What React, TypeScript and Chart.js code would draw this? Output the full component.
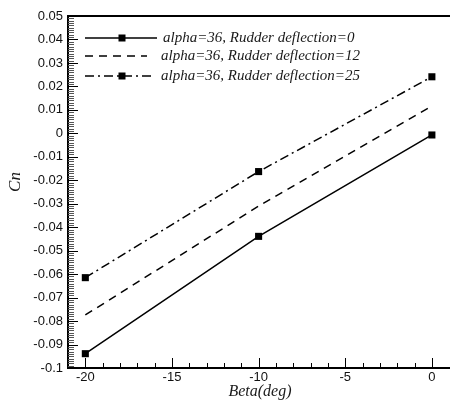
import { useEffect, useRef } from "react";
import { Chart, registerables } from "chart.js";

Chart.register(...registerables);

// Yawing-moment coefficient vs. sideslip angle at alpha = 36
const beta = [-20, -10, 0];
const cnRudder0 = [-0.0939, -0.0439, -0.0007];
const cnRudder12 = [-0.0774, -0.031, 0.0116];
const cnRudder25 = [-0.0615, -0.0163, 0.0241];

const seriesLabels = [
  "alpha=36, Rudder deflection=0",
  "alpha=36, Rudder deflection=12",
  "alpha=36, Rudder deflection=25",
];

const xTicks = [-20, -15, -10, -5, 0];
const yTicks = [-0.1, -0.09, -0.08, -0.07, -0.06, -0.05, -0.04, -0.03, -0.02, -0.01, 0, 0.01, 0.02, 0.03, 0.04, 0.05];
const yTickLabels = ["-0.1", "-0.09", "-0.08", "-0.07", "-0.06", "-0.05", "-0.04", "-0.03", "-0.02", "-0.01", "0", "0.01", "0.02", "0.03", "0.04", "0.05"];

const xTitle = "Beta(deg)";
const yTitle = "Cn";

const INK = "#000";
const SERIF_ITALIC = "italic 15px 'Liberation Serif', 'Times New Roman', serif";

const dashedPattern = [8, 6];
const dashDotPattern = [9, 4, 2, 4];

// Frame, inward tick marks, legend and axis titles
const decorPlugin = {
  id: "decor",
  afterDraw(chart: any) {
    const ctx = chart.ctx as CanvasRenderingContext2D;
    const { left, top, right, bottom } = chart.chartArea;
    const xs = chart.scales.x;
    const ys = chart.scales.y;
    ctx.save();

    // frame (top, left, bottom)
    ctx.strokeStyle = INK;
    ctx.lineWidth = 2;
    ctx.setLineDash([]);
    ctx.beginPath();
    ctx.moveTo(right + 2, top);
    ctx.lineTo(left, top);
    ctx.lineTo(left, bottom);
    ctx.lineTo(right + 2, bottom);
    ctx.stroke();

    // x ticks: major every 5, minor every 1
    ctx.lineWidth = 1;
    for (let v = -21; v <= 0; v += 1) {
      const px = Math.round(xs.getPixelForValue(v)) + 0.5;
      const major = v % 5 === 0;
      ctx.beginPath();
      ctx.moveTo(px, bottom);
      ctx.lineTo(px, bottom - (major ? 10 : 5));
      ctx.stroke();
    }

    // y ticks: major every 0.01, minor every 0.001
    for (let i = -100; i <= 50; i++) {
      const v = i / 1000;
      const py = Math.round(ys.getPixelForValue(v)) + 0.5;
      const major = i % 10 === 0;
      ctx.strokeStyle = major ? INK : "#555";
      ctx.beginPath();
      ctx.moveTo(left, py);
      ctx.lineTo(left + (major ? 10 : 6), py);
      ctx.stroke();
    }

    // legend
    const rows = [
      { y: 38, x0: 85, x1: 157, dash: [] as number[], marker: true, tx: 163 },
      { y: 56, x0: 85, x1: 147, dash: dashedPattern, marker: false, tx: 161 },
      { y: 76, x0: 85, x1: 153, dash: dashDotPattern, marker: true, tx: 161 },
    ];
    rows.forEach((r, i) => {
      ctx.strokeStyle = INK;
      ctx.lineWidth = 1.5;
      ctx.setLineDash(r.dash);
      ctx.beginPath();
      ctx.moveTo(r.x0, r.y);
      ctx.lineTo(r.x1, r.y);
      ctx.stroke();
      ctx.setLineDash([]);
      if (r.marker) {
        ctx.fillStyle = INK;
        ctx.fillRect(122 - 3.5, r.y - 3.5, 7, 7);
      }
      ctx.fillStyle = "#1a1a1a";
      ctx.font = SERIF_ITALIC;
      ctx.textAlign = "left";
      ctx.textBaseline = "middle";
      ctx.fillText(seriesLabels[i], r.tx, r.y);
    });

    // axis titles
    ctx.fillStyle = "#1a1a1a";
    ctx.font = "italic 16px 'Liberation Serif', 'Times New Roman', serif";
    ctx.textAlign = "center";
    ctx.textBaseline = "middle";
    ctx.fillText(xTitle, 260, 392);

    ctx.save();
    ctx.translate(16, 182);
    ctx.rotate(-Math.PI / 2);
    ctx.font = "italic 17px 'Liberation Serif', 'Times New Roman', serif";
    ctx.fillText(yTitle, 0, 0);
    ctx.restore();

    ctx.restore();
  },
};

export default function App() {
  const canvasRef = useRef<HTMLCanvasElement | null>(null);

  useEffect(() => {
    const canvas = canvasRef.current;
    if (!canvas) return;

    const toPoints = (ys: number[]) => beta.map((b, i) => ({ x: b, y: ys[i] }));

    const chart = new Chart(canvas, {
      type: "line",
      data: {
        datasets: [
          {
            label: seriesLabels[0],
            data: toPoints(cnRudder0),
            borderColor: INK,
            backgroundColor: INK,
            borderWidth: 1.5,
            pointStyle: "rect",
            pointRadius: 5,
            pointBorderWidth: 0,
            tension: 0,
          },
          {
            label: seriesLabels[1],
            data: toPoints(cnRudder12),
            borderColor: INK,
            backgroundColor: INK,
            borderWidth: 1.5,
            borderDash: dashedPattern,
            pointRadius: 0,
            tension: 0,
          },
          {
            label: seriesLabels[2],
            data: toPoints(cnRudder25),
            borderColor: INK,
            backgroundColor: INK,
            borderWidth: 1.5,
            borderDash: dashDotPattern,
            pointStyle: "rect",
            pointRadius: 5,
            pointBorderWidth: 0,
            tension: 0,
          },
        ],
      },
      options: {
        responsive: false,
        animation: false,
        devicePixelRatio: 1,
        layout: { padding: { top: 16, right: 0, left: 0, bottom: 0 } },
        plugins: {
          legend: { display: false },
          tooltip: { enabled: false },
        },
        scales: {
          x: {
            type: "linear",
            min: -21,
            max: 0.93,
            afterBuildTicks: (s: any) => {
              s.ticks = xTicks.map((v) => ({ value: v }));
            },
            afterFit: (s: any) => {
              s.height = 33;
            },
            grid: { display: false, drawTicks: false },
            border: { display: false },
            ticks: {
              autoSkip: false,
              maxRotation: 0,
              padding: 2,
              color: "#111",
              font: { family: "'Liberation Sans', Arial, sans-serif", size: 13 },
              callback: (v: any) => String(v),
            },
          },
          y: {
            type: "linear",
            min: -0.1,
            max: 0.05,
            afterBuildTicks: (s: any) => {
              s.ticks = yTicks.map((v) => ({ value: v }));
            },
            afterFit: (s: any) => {
              s.width = 68;
            },
            grid: { display: false, drawTicks: false },
            border: { display: false },
            ticks: {
              autoSkip: false,
              padding: 5,
              color: "#111",
              font: { family: "'Liberation Sans', Arial, sans-serif", size: 13 },
              callback: (v: any) => {
                const idx = yTicks.findIndex((t) => Math.abs(t - Number(v)) < 1e-9);
                return idx >= 0 ? yTickLabels[idx] : "";
              },
            },
          },
        },
      },
      plugins: [decorPlugin],
    });

    return () => chart.destroy();
  }, []);

  return (
    <div style={{ position: "fixed", left: 0, top: 0, width: 453, height: 401, background: "#fff" }}>
      <canvas ref={canvasRef} width={453} height={401} style={{ display: "block" }} />
    </div>
  );
}
